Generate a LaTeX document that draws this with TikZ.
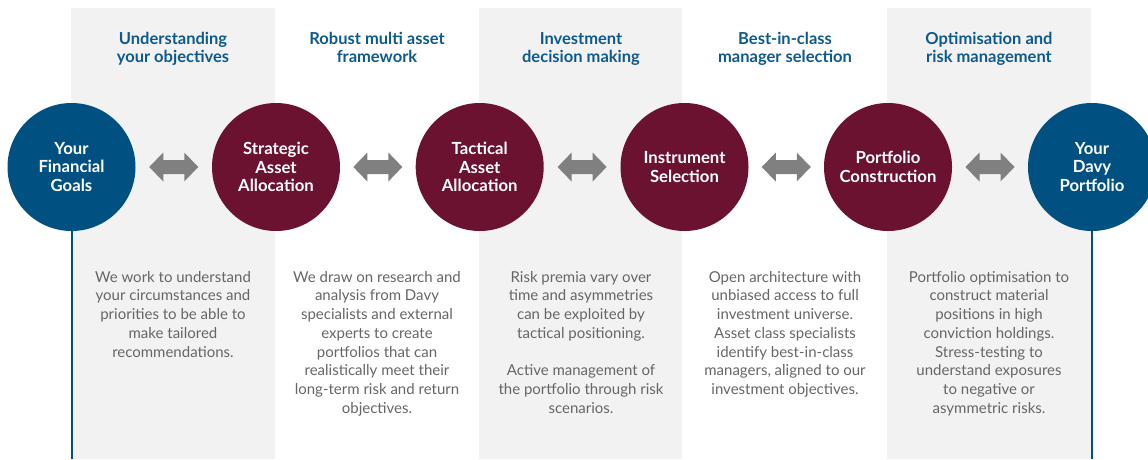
\documentclass[tikz,border=0pt]{standalone}
\usepackage{fontspec}
\setmainfont{Lato}
\usetikzlibrary{calc}
\definecolor{band}{HTML}{F2F2F2}
\definecolor{davyblue}{HTML}{005082}
\definecolor{davyred}{HTML}{6B1231}
\definecolor{arrowgrey}{HTML}{808080}
\definecolor{bodygrey}{HTML}{666666}
\definecolor{headblue}{HTML}{0F5A8C}
\tikzset{
  bandbox/.style={fill=band, draw=none},
  stepcircle/.style={circle, minimum size=128pt, inner sep=0pt, text=white, align=center,
    font=\fontsize{16.7}{18.5}\selectfont\bfseries},
  bluecircle/.style={stepcircle, fill=davyblue},
  redcircle/.style={stepcircle, fill=davyred},
  heading/.style={text=headblue, align=center, anchor=north, inner sep=0pt,
    font=\fontsize{16.5}{18}\selectfont\bfseries},
  bodytext/.style={text=bodygrey, align=center, anchor=north, inner sep=0pt,
    font=\fontsize{15}{18.7}\selectfont},
  dblarrow/.style={fill=arrowgrey, draw=none},
  stem/.style={draw=davyblue, line width=2pt}
}
\newcommand{\dblarrowat}[1]{%
  \fill[dblarrow, shift={(#1)}] (-24.5,0) -- (-10.5,-14.5) -- (-10.5,-7) -- (10.5,-7)
    -- (10.5,-14.5) -- (24.5,0) -- (10.5,14.5) -- (10.5,7) -- (-10.5,7) -- (-10.5,14.5) -- cycle;}
\begin{document}
\begin{tikzpicture}[x=1pt,y=-1pt]
\useasboundingbox (0,0) rectangle (1148,459);
% grey bands
\fill[bandbox] (71,8) rectangle (275,459);
\fill[bandbox] (479,8) rectangle (682,459);
\fill[bandbox] (887,8) rectangle (1091,459);
% headings
\node[heading] (h1) at (173,32) {Understanding\\your objectives};
\node[heading] (h2) at (377,32) {Robust multi asset\\framework};
\node[heading] (h3) at (581,32) {Investment\\decision making};
\node[heading] (h4) at (785,32) {Best-in-class\\manager selection};
\node[heading] (h5) at (989,32) {Optimisation and\\risk management};
% stems
\coordinate (b1) at (71.5,459);
\coordinate (b6) at (1091.5,459);
\draw[stem] (71.5,167) -- (b1);
\draw[stem] (1091.5,167) -- (b6);
% circles
\node[bluecircle] (c1) at (71.5,167) {Your\\Financial\\Goals};
\node[redcircle] (c2) at (276,167) {Strategic\\Asset\\Allocation};
\node[redcircle] (c3) at (479.7,167) {Tactical\\Asset\\Allocation};
\node[redcircle] (c4) at (684.5,167) {Instrument\\Selection};
\node[redcircle] (c5) at (888,167) {Portfolio\\Construction};
\node[bluecircle] (c6) at (1092,167) {Your\\Davy\\Portfolio};
% arrows
\coordinate (a1) at ($(c1)!0.5!(c2)$);
\coordinate (a2) at ($(c2)!0.5!(c3)$);
\coordinate (a3) at ($(c3)!0.5!(c4)$);
\coordinate (a4) at ($(c4)!0.5!(c5)$);
\coordinate (a5) at ($(c5)!0.5!(c6)$);
\dblarrowat{a1}\dblarrowat{a2}\dblarrowat{a3}\dblarrowat{a4}\dblarrowat{a5}
% body text
\node[bodytext] (t1) at (173,271) {We work to understand\\your circumstances and\\priorities to be able to\\make tailored\\recommendations.};
\node[bodytext] (t2) at (377,271) {We draw on research and\\analysis from Davy\\specialists and external\\experts to create\\portfolios that can\\realistically meet their\\long-term risk and return\\objectives.};
\node[bodytext] (t3) at (581,271) {Risk premia vary over\\time and asymmetries\\can be exploited by\\tactical positioning.\\[18.7pt]Active management of\\the portfolio through risk\\scenarios.};
\node[bodytext] (t4) at (785,271) {Open architecture with\\unbiased access to full\\investment universe.\\Asset class specialists\\identify best-in-class\\managers, aligned to our\\investment objectives.};
\node[bodytext] (t5) at (989,271) {Portfolio optimisation to\\construct material\\positions in high\\conviction holdings.\\Stress-testing to\\understand exposures\\to negative or\\asymmetric risks.};
\end{tikzpicture}
\end{document}
